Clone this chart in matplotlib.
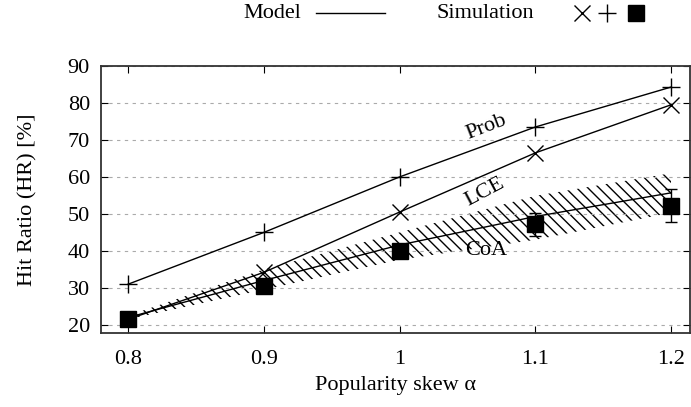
import matplotlib
matplotlib.use("Agg")
import matplotlib.pyplot as plt
from matplotlib.lines import Line2D

plt.rcParams['font.family'] = ['Liberation Serif', 'DejaVu Serif']
plt.rcParams['hatch.linewidth'] = 1.0

alpha = [0.8, 0.9, 1.0, 1.1, 1.2]

# model curves
prob_model = [31.0, 45.0, 60.0, 73.5, 84.3]
lce_model = [21.5, 34.2, 50.5, 66.5, 79.5]
coa_model = [22.0, 32.0, 41.6, 49.3, 55.7]
coa_low = [21.5, 29.5, 37.6, 43.0, 50.3]
coa_high = [22.5, 35.0, 45.0, 54.9, 61.0]

# simulation points
prob_sim = [31.0, 45.0, 60.0, 73.5, 84.3]
lce_sim = [21.5, 34.2, 50.5, 66.5, 79.5]
coa_sim = [21.6, 30.5, 40.0, 47.3, 52.2]
coa_err_lo = [0.0, 0.0, 0.0, 3.3, 4.4]
coa_err_hi = [0.0, 0.0, 0.0, 3.0, 4.6]

FS = 16
BS = chr(92)  # backslash for hatch
W, H = 691, 407

fig = plt.figure(figsize=(W / 100, H / 100), dpi=100)
ax = fig.add_axes([101 / W, 1 - 333 / H, 589 / W, 267 / H])

ax.fill_between(alpha, coa_low, coa_high, facecolor='none', edgecolor='black',
                hatch=BS * 3, linewidth=0)
ax.plot(alpha, prob_model, color='black', lw=1)
ax.plot(alpha, lce_model, color='black', lw=1)
ax.plot(alpha, coa_model, color='black', lw=1)

ax.plot(alpha, prob_sim, ls='none', marker='+', ms=13, mew=1, color='black')
ax.plot(alpha, lce_sim, ls='none', marker='x', ms=11, mew=1, color='black')
ax.errorbar(alpha, coa_sim, yerr=[coa_err_lo, coa_err_hi], ls='none',
            marker='s', ms=12, color='black', ecolor='black', elinewidth=1,
            capsize=4, capthick=1)

ax.text(1.064, 73.5, 'Prob', rotation=21, fontsize=FS, ha='center', va='center')
ax.text(1.063, 56.0, 'LCE', rotation=28, fontsize=FS, ha='center', va='center')
ax.text(1.064, 40.0, 'CoA', fontsize=FS, ha='center', va='center')

ax.set_xlim(0.78, 1.214)
ax.set_ylim(17.8, 90)
ax.set_xticks(alpha)
ax.set_xticklabels(['0.8', '0.9', '1', '1.1', '1.2'])
ax.set_yticks(range(20, 91, 10))
ax.tick_params(direction='in', top=True, right=True, labelsize=FS, length=5, width=0.8)
ax.tick_params(axis='x', pad=12)
ax.tick_params(axis='y', pad=8)
ax.yaxis.grid(True, ls=(0, (3, 4)), color='#aaaaaa', lw=0.8)
for s in ax.spines.values():
    s.set_linewidth(1.3)
    s.set_color('#333333')

ax.set_xlabel('Popularity skew α', fontsize=FS, labelpad=5)
ax.set_ylabel('Hit Ratio (HR) [%]', fontsize=FS, labelpad=22)

# legend key drawn in figure pixels
ly = 1 - 13 / H
fig.text(243 / W, ly, 'Model', fontsize=FS, ha='left', va='center')
fig.add_artist(Line2D([316 / W, 385 / W], [ly, ly], color='black', lw=1,
                      transform=fig.transFigure))
fig.text(436 / W, ly, 'Simulation', fontsize=FS, ha='left', va='center')
for mx, mk, ms in [(582, 'x', 11), (607, '+', 13), (636, 's', 12)]:
    fig.add_artist(Line2D([mx / W], [ly], ls='none', marker=mk, ms=ms, mew=1,
                          color='black', transform=fig.transFigure))

fig.savefig('out.png', dpi=100)
